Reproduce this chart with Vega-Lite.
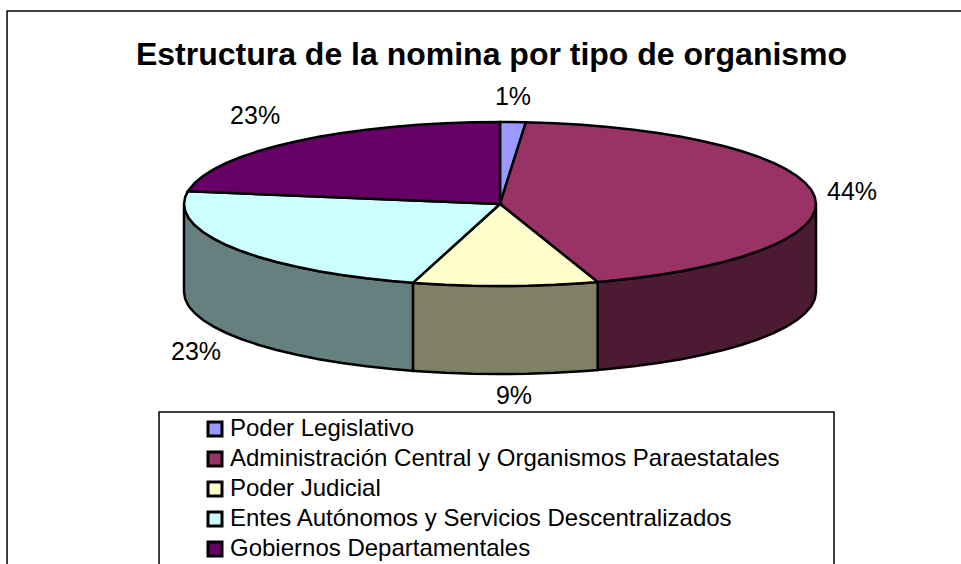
{"$schema":"https://vega.github.io/schema/vega-lite/v6.json","width":961,"height":564,"padding":0,"autosize":{"type":"none"},"background":"white","view":{"stroke":null},
"title":{"text":"Estructura de la nomina por tipo de organismo","font":"Liberation Sans","fontSize":32,"fontWeight":"bold","color":"black","anchor":"middle","dx":11,"offset":-97,"baseline":"alphabetic"},
"datasets":{
"slices":[{"id":"A","organismo":"Poder Legislativo","share":0.01,"lu":4.11,"lv":130.5},{"id":"B","organismo":"Administración Central y Organismos Paraestatales","share":0.44,"lu":111.4,"lv":14.6},{"id":"C","organismo":"Poder Judicial","share":0.09,"lu":4.43,"lv":-234.1},{"id":"D","organismo":"Entes Autónomos y Servicios Descentralizados","share":0.23,"lu":-96.2,"lv":-180.5},{"id":"E","organismo":"Gobiernos Departamentales","share":0.23,"lu":-77.5,"lv":107.3}],
"frames":[{"box":"chart","u1":-156,"u2":160,"v1":235.4,"v2":-480},{"box":"legend","u1":-107.9,"u2":105.7,"v1":-253.7,"v2":-480}],
"rim":[
{"id":"A","t":-1,"u":0,"v":0},{"id":"A","t":0,"u":0,"v":100},{"id":"A","t":4.7,"u":8.19,"v":99.66},
{"id":"B","t":-1,"u":0,"v":0},{"id":"B","t":4.7,"u":8.19,"v":99.66},{"id":"B","t":10,"u":17.36,"v":98.48},{"id":"B","t":15,"u":25.88,"v":96.59},{"id":"B","t":20,"u":34.2,"v":93.97},{"id":"B","t":25,"u":42.26,"v":90.63},{"id":"B","t":30,"u":50,"v":86.6},{"id":"B","t":35,"u":57.36,"v":81.92},{"id":"B","t":40,"u":64.28,"v":76.6},{"id":"B","t":45,"u":70.71,"v":70.71},{"id":"B","t":50,"u":76.6,"v":64.28},{"id":"B","t":55,"u":81.92,"v":57.36},{"id":"B","t":60,"u":86.6,"v":50},{"id":"B","t":65,"u":90.63,"v":42.26},{"id":"B","t":70,"u":93.97,"v":34.2},{"id":"B","t":75,"u":96.59,"v":25.88},{"id":"B","t":80,"u":98.48,"v":17.36},{"id":"B","t":85,"u":99.62,"v":8.72},
{"id":"B","t":90,"u":100,"v":0,"b":-107.3},{"id":"B","t":95,"u":99.62,"v":-8.72,"b":-116.02},{"id":"B","t":100,"u":98.48,"v":-17.36,"b":-124.66},{"id":"B","t":105,"u":96.59,"v":-25.88,"b":-133.18},{"id":"B","t":110,"u":93.97,"v":-34.2,"b":-141.5},{"id":"B","t":115,"u":90.63,"v":-42.26,"b":-149.56},{"id":"B","t":120,"u":86.6,"v":-50,"b":-157.3},{"id":"B","t":125,"u":81.92,"v":-57.36,"b":-164.66},{"id":"B","t":130,"u":76.6,"v":-64.28,"b":-171.58},{"id":"B","t":135,"u":70.71,"v":-70.71,"b":-178.01},{"id":"B","t":140,"u":64.28,"v":-76.6,"b":-183.9},{"id":"B","t":145,"u":57.36,"v":-81.92,"b":-189.22},{"id":"B","t":150,"u":50,"v":-86.6,"b":-193.9},{"id":"B","t":155,"u":42.26,"v":-90.63,"b":-197.93},{"id":"B","t":160,"u":34.2,"v":-93.97,"b":-201.27},{"id":"B","t":162,"u":30.9,"v":-95.11,"b":-202.41},
{"id":"C","t":-1,"u":0,"v":0},{"id":"C","t":162,"u":30.9,"v":-95.11,"b":-202.41},{"id":"C","t":165,"u":25.88,"v":-96.59,"b":-203.89},{"id":"C","t":170,"u":17.36,"v":-98.48,"b":-205.78},{"id":"C","t":175,"u":8.72,"v":-99.62,"b":-206.92},{"id":"C","t":180,"u":0,"v":-100,"b":-207.3},{"id":"C","t":185,"u":-8.72,"v":-99.62,"b":-206.92},{"id":"C","t":190,"u":-17.36,"v":-98.48,"b":-205.78},{"id":"C","t":195,"u":-25.88,"v":-96.59,"b":-203.89},{"id":"C","t":196,"u":-27.56,"v":-96.13,"b":-203.43},
{"id":"D","t":-1,"u":0,"v":0},{"id":"D","t":196,"u":-27.56,"v":-96.13,"b":-203.43},{"id":"D","t":200,"u":-34.2,"v":-93.97,"b":-201.27},{"id":"D","t":205,"u":-42.26,"v":-90.63,"b":-197.93},{"id":"D","t":210,"u":-50,"v":-86.6,"b":-193.9},{"id":"D","t":215,"u":-57.36,"v":-81.92,"b":-189.22},{"id":"D","t":220,"u":-64.28,"v":-76.6,"b":-183.9},{"id":"D","t":225,"u":-70.71,"v":-70.71,"b":-178.01},{"id":"D","t":230,"u":-76.6,"v":-64.28,"b":-171.58},{"id":"D","t":235,"u":-81.92,"v":-57.36,"b":-164.66},{"id":"D","t":240,"u":-86.6,"v":-50,"b":-157.3},{"id":"D","t":245,"u":-90.63,"v":-42.26,"b":-149.56},{"id":"D","t":250,"u":-93.97,"v":-34.2,"b":-141.5},{"id":"D","t":255,"u":-96.59,"v":-25.88,"b":-133.18},{"id":"D","t":260,"u":-98.48,"v":-17.36,"b":-124.66},{"id":"D","t":265,"u":-99.62,"v":-8.72,"b":-116.02},{"id":"D","t":270,"u":-100,"v":0,"b":-107.3},{"id":"D","t":275,"u":-99.62,"v":8.72},{"id":"D","t":279,"u":-98.77,"v":15.64},
{"id":"E","t":-1,"u":0,"v":0},{"id":"E","t":279,"u":-98.77,"v":15.64},{"id":"E","t":285,"u":-96.59,"v":25.88},{"id":"E","t":290,"u":-93.97,"v":34.2},{"id":"E","t":295,"u":-90.63,"v":42.26},{"id":"E","t":300,"u":-86.6,"v":50},{"id":"E","t":305,"u":-81.92,"v":57.36},{"id":"E","t":310,"u":-76.6,"v":64.28},{"id":"E","t":315,"u":-70.71,"v":70.71},{"id":"E","t":320,"u":-64.28,"v":76.6},{"id":"E","t":325,"u":-57.36,"v":81.92},{"id":"E","t":330,"u":-50,"v":86.6},{"id":"E","t":335,"u":-42.26,"v":90.63},{"id":"E","t":340,"u":-34.2,"v":93.97},{"id":"E","t":345,"u":-25.88,"v":96.59},{"id":"E","t":350,"u":-17.36,"v":98.48},{"id":"E","t":355,"u":-8.72,"v":99.62},{"id":"E","t":360,"u":0,"v":100}
]},
"layer":[
{"data":{"name":"frames"},"mark":{"type":"rect","fill":"white","stroke":"black","strokeWidth":1.5,"clip":true},
 "encoding":{"x":{"field":"u1","type":"quantitative","scale":{"domain":[-158.23,145.89],"nice":false,"zero":false},"axis":null},"x2":{"field":"u2"},"y":{"field":"v1","type":"quantitative","scale":{"domain":[-439.02,248.78],"nice":false,"zero":false},"axis":null},"y2":{"field":"v2"}}},
{"data":{"name":"rim"},"transform":[{"filter":"datum.t>=90 && datum.t<=270"},{"lookup":"id","from":{"data":{"name":"slices"},"key":"id","fields":["organismo"]}}],
 "mark":{"type":"area","stroke":"black","strokeWidth":2.5,"interpolate":"linear"},
 "encoding":{"x":{"field":"u","type":"quantitative","axis":null},"y":{"field":"v","type":"quantitative","axis":null},"y2":{"field":"b"},
 "color":{"field":"organismo","type":"nominal","legend":null,"scale":{"domain":["Administración Central y Organismos Paraestatales","Poder Judicial","Entes Autónomos y Servicios Descentralizados"],"range":["#4d1a33","#808066","#668080"]}}}},
{"data":{"name":"rim"},"transform":[{"lookup":"id","from":{"data":{"name":"slices"},"key":"id","fields":["organismo"]}}],
 "mark":{"type":"line","filled":true,"stroke":"black","strokeWidth":2.5,"interpolate":"linear-closed"},
 "encoding":{"x":{"field":"u","type":"quantitative","axis":null},"y":{"field":"v","type":"quantitative","axis":null},"order":{"field":"t","type":"quantitative"},
 "color":{"field":"organismo","type":"nominal","scale":{"domain":["Poder Legislativo","Administración Central y Organismos Paraestatales","Poder Judicial","Entes Autónomos y Servicios Descentralizados","Gobiernos Departamentales"],"range":["#9999ff","#993366","#ffffcc","#ccffff","#660066"]},
 "legend":{"title":null,"orient":"none","legendX":203,"legendY":417,"symbolType":"square","symbolSize":196,"symbolStrokeColor":"black","symbolStrokeWidth":3,"labelFont":"Liberation Sans","labelFontSize":24,"labelColor":"black","labelLimit":700,"rowPadding":4,"labelOffset":3,"symbolOpacity":1}}}},
{"data":{"name":"slices"},"mark":{"type":"text","font":"Liberation Sans","fontSize":25,"color":"black"},
 "encoding":{"x":{"field":"lu","type":"quantitative","axis":null},"y":{"field":"lv","type":"quantitative","axis":null},"text":{"field":"share","type":"quantitative","format":".0%"}}}
],
"resolve":{"scale":{"color":"independent"}}}
